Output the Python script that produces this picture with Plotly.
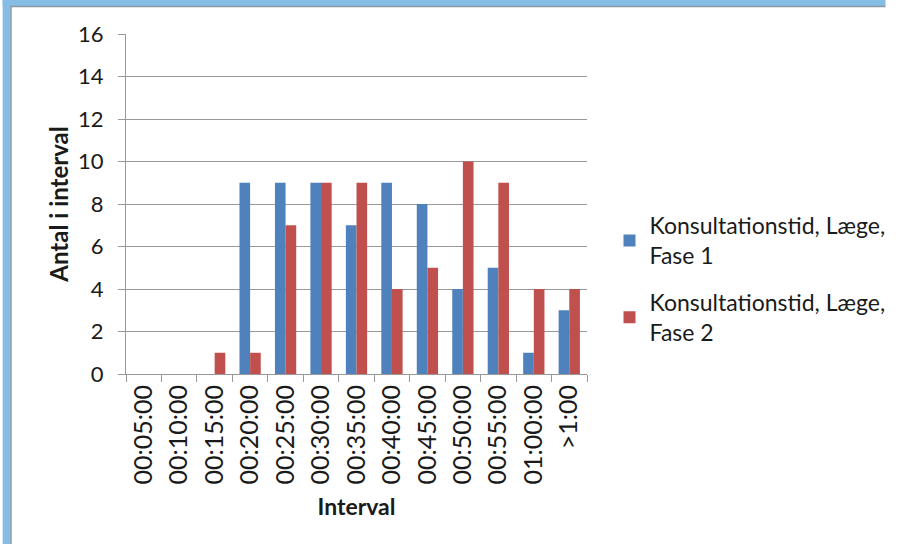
import plotly.graph_objects as go

categories = ["00:05:00", "00:10:00", "00:15:00", "00:20:00", "00:25:00", "00:30:00",
              "00:35:00", "00:40:00", "00:45:00", "00:50:00", "00:55:00", "01:00:00", ">1:00"]
fase1 = [0, 0, 0, 9, 9, 9, 7, 9, 8, 4, 5, 1, 3]
fase2 = [0, 0, 1, 1, 7, 9, 9, 4, 5, 10, 9, 4, 4]
name1 = "Konsultationstid, Læge,<br>Fase 1"
name2 = "Konsultationstid, Læge,<br>Fase 2"

FONT = "Lato, Carlito, Calibri, sans-serif"
TXT = "#1a1a1a"
W, H = 902, 544
L, R, T, B = 126, 305, 34, 170
pw, ph = W - L - R, H - T - B

def px(x):
    return (x - L) / pw

def py(y):
    return (H - B - y) / ph

fig = go.Figure()
fig.add_trace(go.Bar(x=categories, y=fase1, name=name1, legendgroup="f1",
                     marker=dict(color="#4F81BD", line=dict(width=0))))
fig.add_trace(go.Bar(x=categories, y=fase2, name=name2, legendgroup="f2",
                     marker=dict(color="#C0504D", line=dict(width=0))))

fig.update_layout(
    width=W, height=H,
    margin=dict(l=L, r=R, t=T, b=B),
    paper_bgcolor="white", plot_bgcolor="white",
    barmode="group", bargap=0.4, bargroupgap=0,
    font=dict(family=FONT, color=TXT),
    legend=dict(x=px(620), y=py(279), xanchor="left", yanchor="middle",
                font=dict(size=23, color=TXT), tracegroupgap=14,
                itemwidth=30, bgcolor="rgba(0,0,0,0)"),
    xaxis=dict(type="category", tickangle=-90, tickfont=dict(size=25, color=TXT),
               ticks="outside", ticklen=7, tickcolor="#999999", tickson="boundaries",
               showline=True, linecolor="#999999", linewidth=1, showgrid=False,
               title=dict(text="<b>Interval</b>", font=dict(size=23, color=TXT), standoff=15)),
    yaxis=dict(range=[0, 16], dtick=2, tickfont=dict(size=22, color=TXT),
               ticks="outside", ticklen=7, tickcolor="#999999", ticklabelstandoff=10,
               showline=True, linecolor="#999999", linewidth=1,
               showgrid=True, gridcolor="#999999", gridwidth=1, zeroline=False,
               title=dict(text="<b>Antal i interval</b>", font=dict(size=24, color=TXT), standoff=2)),
)

# light-blue window frame on top and left
fig.add_shape(type="rect", xref="paper", yref="paper", x0=px(0), x1=px(W), y0=py(0), y1=py(6),
              fillcolor="#85BDE5", line=dict(width=0), layer="above")
fig.add_shape(type="rect", xref="paper", yref="paper", x0=px(0), x1=px(8), y0=py(0), y1=py(H),
              fillcolor="#85BDE5", line=dict(width=0), layer="above")
fig.add_shape(type="line", xref="paper", yref="paper", x0=px(8), x1=px(W), y0=py(6.5), y1=py(6.5),
              line=dict(color="#8A98A6", width=1.5), layer="above")
fig.add_shape(type="line", xref="paper", yref="paper", x0=px(8.5), x1=px(8.5), y0=py(6), y1=py(H),
              line=dict(color="#8A98A6", width=1.5), layer="above")

fig.write_html("out.html", config={"displayModeBar": False},
               post_script="document.body.style.margin='0';document.body.style.overflow='hidden';document.documentElement.style.overflow='hidden';")
